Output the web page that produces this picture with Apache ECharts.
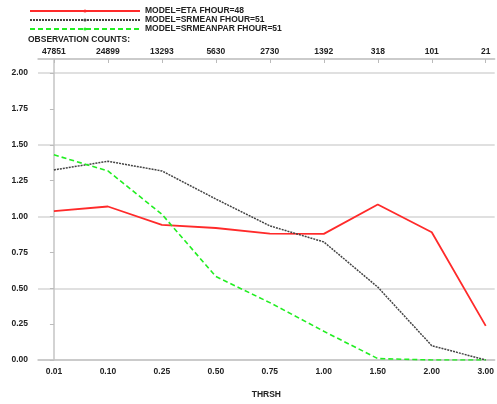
<!DOCTYPE html>
<html>
<head>
<meta charset="utf-8">
<script src="https://cdn.jsdelivr.net/npm/echarts@6/dist/echarts.min.js"></script>
<style>
html,body{margin:0;padding:0;background:#fff;}
#chart{width:497px;height:404px;}
</style>
</head>
<body>
<div id="chart"></div>
<script>
var categories = ['0.01','0.10','0.25','0.50','0.75','1.00','1.50','2.00','3.00'];
var obsCounts = ['47851','24899','13293','5630','2730','1392','318','101','21'];
var seriesNames = ['MODEL=ETA FHOUR=48','MODEL=SRMEAN FHOUR=51','MODEL=SRMEANPAR FHOUR=51'];
var etaValues = [1.038, 1.07, 0.942, 0.92, 0.881, 0.879, 1.084, 0.89, 0.238];
var srmeanValues = [1.325, 1.385, 1.318, 1.122, 0.935, 0.823, 0.508, 0.10, 0.0];
var srmeanparValues = [1.43, 1.318, 1.016, 0.582, 0.40, 0.20, 0.01, 0.0, 0.0];
var yTicks = [0, 0.25, 0.5, 0.75, 1.0, 1.25, 1.5, 1.75, 2.0];

var FONT = 'Liberation Sans';
var idx = categories.map(function(c, i){ return i; });
function pts(vals){ return vals.map(function(v, i){ return [i, v]; }); }

var chart = echarts.init(document.getElementById('chart'));
var axisCol = '#c4c4c4';
var gridCol = '#d6d6d6';
var txt = {fontFamily: FONT, fontWeight: 'bold', fontSize: 8.5, color: '#222'};

chart.setOption({
  animation: false,
  backgroundColor: '#fff',
  textStyle: {fontFamily: FONT},
  legend: {
    orient: 'vertical', left: 24, top: 1.5,
    itemWidth: 110, itemHeight: 4, itemGap: 0,
    textStyle: Object.assign({}, txt, {lineHeight: 9, padding: [0,0,0,0]}),
    data: seriesNames
  },
  graphic: [{
    type: 'text', left: 28, top: 35,
    style: {text: 'OBSERVATION COUNTS:', font: 'bold 8.5px "Liberation Sans"', fill: '#222'}
  }],
  grid: {left: 38, right: 0, top: 59, bottom: 34.5},
  xAxis: [{
    type: 'value', position: 'bottom', min: -0.295, max: 8.166,
    name: 'THRSH', nameLocation: 'middle', nameGap: 30,
    nameTextStyle: txt,
    axisLine: {show: true, onZero: false, lineStyle: {color: axisCol, width: 1.5}},
    axisTick: {show: false},
    splitLine: {show: false},
    axisLabel: Object.assign({}, txt, {customValues: idx, margin: 7,
      formatter: function(v){ return categories[Math.round(v)]; }})
  }, {
    type: 'value', position: 'top', min: -0.295, max: 8.166,
    axisLine: {show: true, onZero: false, lineStyle: {color: axisCol, width: 1.5}},
    axisTick: {show: true, inside: true, length: 4, customValues: idx, lineStyle: {color: '#bbb'}},
    splitLine: {show: false},
    axisLabel: Object.assign({}, txt, {customValues: idx, margin: 3,
      formatter: function(v){ return obsCounts[Math.round(v)]; }})
  }],
  yAxis: [{
    type: 'value', min: 0, max: 2.098,
    axisLine: {show: true, lineStyle: {color: axisCol, width: 1.5}},
    axisTick: {show: true, length: 4, customValues: yTicks, lineStyle: {color: '#bbb'}},
    splitLine: {show: false},
    axisLabel: Object.assign({}, txt, {customValues: yTicks, margin: 10,
      formatter: function(v){ return v.toFixed(2); }})
  }, {
    type: 'value', position: 'left', min: 0, max: 2.098, interval: 0.5,
    axisLine: {show: false}, axisTick: {show: false}, axisLabel: {show: false},
    splitLine: {show: true, lineStyle: {color: gridCol, width: 1.5}}
  }],
  series: [{
    name: seriesNames[0], type: 'line', symbol: 'none', data: pts(etaValues),
    lineStyle: {color: '#ff2a2a', width: 1.8}, itemStyle: {color: '#ff2a2a'}
  }, {
    name: seriesNames[1], type: 'line', symbol: 'none', data: pts(srmeanValues),
    lineStyle: {color: '#444', width: 1.5, type: [2, 1]}, itemStyle: {color: '#444'}
  }, {
    name: seriesNames[2], type: 'line', symbol: 'none', data: pts(srmeanparValues),
    lineStyle: {color: '#22ee22', width: 1.6, type: [5, 3]}, itemStyle: {color: '#22ee22'}
  }]
});
</script>
</body>
</html>
